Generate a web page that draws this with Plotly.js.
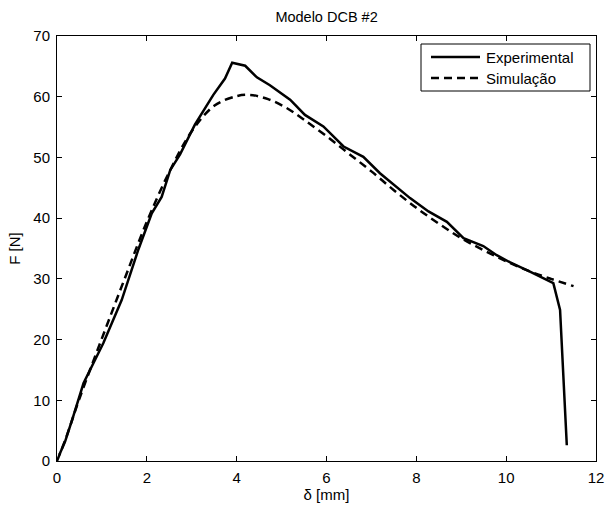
<!DOCTYPE html>
<html>
<head>
<meta charset="utf-8">
<script src="https://cdn.plot.ly/plotly-3.0.1.min.js"></script>
<style>html,body{margin:0;padding:0;background:#fff;}#chart{width:607px;height:505px;}</style>
</head>
<body>
<div id="chart"></div>
<script>
var expX = [0.05, 0.18, 0.36, 0.59, 0.81, 1.03, 1.44, 1.81, 2.11, 2.33, 2.52, 2.74, 3.07, 3.48, 3.74, 3.90, 4.19, 4.45, 4.74, 5.19, 5.52, 5.93, 6.38, 6.82, 7.19, 7.42, 7.86, 8.27, 8.68, 9.05, 9.49, 9.79, 10.09, 10.53, 11.05, 11.20, 11.28, 11.35];
var expY = [1.0, 3.2, 7.3, 12.8, 16.1, 19.4, 26.5, 34.8, 40.8, 43.5, 47.9, 50.5, 55.4, 60.3, 63.0, 65.6, 65.1, 63.2, 61.9, 59.5, 57.0, 55.1, 51.8, 50.1, 47.4, 46.0, 43.3, 41.1, 39.4, 36.7, 35.4, 33.9, 32.7, 31.2, 29.3, 24.9, 13.3, 2.6];
var simX = [0, 0.2, 0.5, 1.0, 1.5, 2.0, 2.5, 3.0, 3.5, 4.0, 4.3, 4.7, 5.1, 5.5, 6.0, 6.5, 7.0, 7.5, 8.0, 8.5, 9.0, 9.5, 10.0, 10.5, 11.0, 11.5];
var simY = [0, 3.8, 10.3, 20.2, 29.9, 39.4, 47.6, 54.3, 58.5, 60.1, 60.3, 59.6, 58.2, 56.2, 53.5, 50.6, 47.7, 44.6, 41.7, 39.1, 36.7, 34.7, 32.9, 31.3, 30.0, 28.8];
var xTicks = [0, 2, 4, 6, 8, 10, 12];
var yTicks = [0, 10, 20, 30, 40, 50, 60, 70];
var seriesNames = ['Experimental', 'Simulação'];

var font = {family: 'Liberation Sans, Arial, sans-serif', size: 15, color: '#000'};
var titleFont = {family: 'Liberation Sans, Arial, sans-serif', size: 14.5, color: '#000'};

var traces = [
  {x: expX, y: expY, mode: 'lines', name: seriesNames[0], line: {color: '#000', width: 2.5}, showlegend: false},
  {x: simX, y: simY, mode: 'lines', name: seriesNames[1], line: {color: '#000', width: 2.5, dash: '8px,5px', shape: 'spline'}, showlegend: false}
];

var axisCommon = {
  showgrid: false, zeroline: false, showline: true, linecolor: '#000', linewidth: 1,
  mirror: 'ticks', ticks: 'inside', ticklen: 5, tickwidth: 1, tickcolor: '#000',
  tickfont: font
};

var layout = {
  width: 607, height: 505,
  margin: {l: 57, r: 11, t: 36, b: 44},
  paper_bgcolor: '#fff', plot_bgcolor: '#fff',
  font: font,
  title: {text: 'Modelo DCB #2', font: titleFont, x: 0.538, xanchor: 'center', y: 0.967, yanchor: 'middle'},
  xaxis: Object.assign({}, axisCommon, {range: [0, 12], tickvals: xTicks, ticktext: xTicks.map(String), ticklabelstandoff: 3,
    title: {text: 'δ [mm]', font: font, standoff: 0}}),
  yaxis: Object.assign({}, axisCommon, {range: [0, 70], tickvals: yTicks, ticktext: yTicks.map(String), ticklabelstandoff: 3,
    title: {text: 'F [N]', font: font, standoff: 9}}),
  shapes: [
    {type: 'rect', xref: 'paper', yref: 'paper', x0: (421-57)/539, x1: (590-57)/539, y0: (461-91)/425, y1: (461-44)/425, line: {color: '#000', width: 1}, fillcolor: '#fff'},
    {type: 'line', xref: 'paper', yref: 'paper', x0: (431-57)/539, x1: (480-57)/539, y0: (461-57)/425, y1: (461-57)/425, line: {color: '#000', width: 2.5}},
    {type: 'line', xref: 'paper', yref: 'paper', x0: (431-57)/539, x1: (480-57)/539, y0: (461-78)/425, y1: (461-78)/425, line: {color: '#000', width: 2.5, dash: '8px,5px'}}
  ],
  annotations: [
    {xref: 'paper', yref: 'paper', x: (484-57)/539, y: (461-57)/425, xanchor: 'left', yanchor: 'middle', text: seriesNames[0], showarrow: false, font: font},
    {xref: 'paper', yref: 'paper', x: (484-57)/539, y: (461-78)/425, xanchor: 'left', yanchor: 'middle', text: seriesNames[1], showarrow: false, font: font}
  ]
};

Plotly.newPlot('chart', traces, layout, {displayModeBar: false, staticPlot: true});
</script>
</body>
</html>
